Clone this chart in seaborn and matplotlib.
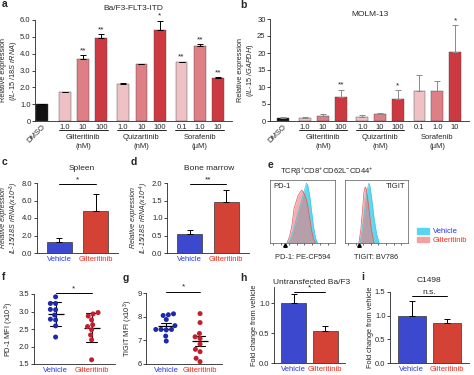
import numpy as np
import pandas as pd
import seaborn as sns
import matplotlib.pyplot as plt
from matplotlib.patches import Patch

sns.set_style("ticks")
plt.rcParams['font.family'] = ['Liberation Sans', 'DejaVu Sans']
plt.rcParams['mathtext.fontset'] = 'custom'
plt.rcParams['mathtext.rm'] = 'Liberation Sans'
plt.rcParams['mathtext.it'] = 'Liberation Sans:italic'
plt.rcParams['font.size'] = 5.5
plt.rcParams['axes.linewidth'] = 0.6
plt.rcParams['xtick.major.width'] = 0.6
plt.rcParams['ytick.major.width'] = 0.6
plt.rcParams['xtick.major.size'] = 2
plt.rcParams['ytick.major.size'] = 2
plt.rcParams['xtick.labelsize'] = 5.5
plt.rcParams['ytick.labelsize'] = 5.5
plt.rcParams['axes.labelsize'] = 5.3

# ---- data ----
# a / b : IL-15 expression in cell lines
ab_pos = [0, 1.25, 2.25, 3.25, 4.45, 5.45, 6.45, 7.65, 8.65, 9.65]
ab_ticklabels = ["DMSO", "1.0", "10", "100", "1.0", "10", "100", "0.1", "1.0", "10"]
ab_shade = ["dmso", "light", "mid", "dark", "light", "mid", "dark", "light", "mid", "dark"]
ab_groups = ["Gilteritinib\n(nM)", "Quizartinib\n(nM)", "Sorafenib\n(\u03bcM)"]
a_mean = [1.0, 1.7, 3.7, 4.95, 2.2, 3.38, 5.4, 3.48, 4.45, 2.55]
a_err = [0.03, 0.04, 0.2, 0.2, 0.08, 0.03, 0.55, 0.04, 0.12, 0.04]
a_stars = ["", "", "**", "**", "", "", "*", "**", "**", "**"]
b_mean = [1.0, 0.8, 1.6, 7.2, 1.3, 2.2, 6.6, 8.7, 8.7, 20.3]
b_err = [0.15, 0.35, 0.55, 2.0, 0.6, 0.3, 2.4, 4.7, 3.1, 7.8]
b_stars = ["", "", "", "**", "", "", "*", "", "", "*"]

# c / d / h / i : vehicle vs gilteritinib
groups = ["Vehicle", "Gilteritinib"]
c_mean, c_err = [1.3, 4.75], [0.4, 2.0]
d_mean, d_err = [0.53, 1.45], [0.12, 0.35]
h_mean, h_err = [1.0, 0.53], [0.16, 0.09]
i_mean, i_err = [1.0, 0.85], [0.3, 0.09]

# e : histograms (x in % of axis, height in % of max)
pd1_veh_x = [28, 33, 38, 43, 48, 52, 56, 58, 61, 64, 67, 70, 73]
pd1_veh_y = [0, 10, 28, 48, 65, 80, 95, 92, 75, 50, 25, 8, 0]
pd1_gil_x = [26, 30, 34, 37, 40, 43, 46, 49, 52, 55, 58, 61, 64, 67, 70]
pd1_gil_y = [0, 10, 30, 55, 65, 75, 80, 84, 80, 72, 60, 40, 20, 6, 0]
tig_veh_x = [24, 28, 31, 34, 36, 38, 40, 43, 46, 50, 54]
tig_veh_y = [0, 25, 50, 75, 88, 95, 88, 65, 40, 15, 0]
tig_gil_x = [22, 25, 28, 30, 32, 34, 36, 39, 42, 46]
tig_gil_y = [0, 20, 55, 80, 89, 85, 70, 45, 20, 0]

# f / g : MFI per mouse
f_veh = [3.42, 3.23, 3.23, 3.06, 3.05, 2.9, 2.78, 2.76, 2.59, 2.27]
f_gil = [2.97, 2.93, 2.87, 2.76, 2.62, 2.57, 2.48, 2.33, 2.19, 1.62]
g_veh = [8.08, 8.05, 8.12, 7.88, 7.62, 7.46, 7.44, 7.46, 7.46, 7.18, 6.97]
g_gil = [8.13, 7.75, 7.29, 7.15, 7.08, 6.84, 6.62, 6.52, 6.24, 6.1]

shade_colors = {"dmso": "#111111", "light": "#f6b9bd", "mid": "#ee6e77", "dark": "#e6202a"}
BLUE, RED = "#2434e6", "#ee2a1b"
DOT_BLUE, DOT_RED = "#1c2aa8", "#c0202e"

W, H = 474, 375
fig = plt.figure(figsize=(W / 100, H / 100), dpi=100)


def add_ax(x0, y0, x1, y1):
    return fig.add_axes([x0 / W, 1 - y1 / H, (x1 - x0) / W, (y1 - y0) / H])


def ftext(x, y, s, **kw):
    fig.text(x / W, 1 - y / H, s, **kw)


def sig(ax, x0, x1, y, s, dy):
    ax.plot([x0, x1], [y, y], color="black", lw=0.7, clip_on=False)
    ax.text((x0 + x1) / 2, y + dy, s, ha="center", va="bottom", fontsize=6)


def style(ax):
    sns.despine(ax=ax)
    ax.tick_params(axis="x", length=0, pad=2)
    ax.tick_params(axis="y", pad=1.2)


# ---- a & b ----
for key, box, mean, err, stars, ylim, yticks, ylabs, ylab, ecol, ttl, tpos, lined in [
    ("a", (35, 20, 232, 121), a_mean, a_err, a_stars, 6, np.arange(0, 7),
     ["0"] + ["%.1f" % v for v in range(1, 7)],
     "Relative expression\n" + r"($\mathit{IL}$-$\mathit{15}$ /$\mathit{18S\ rRNA}$)",
     "black", "Ba/F3-FLT3-ITD", (133, 8), [True, True, True]),
    ("b", (270, 19, 469, 121), b_mean, b_err, b_stars, 30, np.arange(0, 31, 5),
     [str(v) for v in range(0, 31, 5)],
     "Relative expression\n" + r"($\mathit{IL}$-$\mathit{15}$ /$\mathit{GAPDH}$)",
     "#8a8a8a", "MOLM-13", (370, 14), [True, True, False]),
]:
    ax = add_ax(*box)
    sns.barplot(x=ab_pos, y=mean, hue=ab_shade, palette=shade_colors, native_scale=True,
                width=0.65, legend=False, edgecolor="#444444", linewidth=0.3, ax=ax)
    ax.errorbar(ab_pos, mean, yerr=[np.zeros(len(err)), err], fmt="none", ecolor=ecol,
                elinewidth=0.7, capsize=2, capthick=0.7)
    for p, m, e, s in zip(ab_pos, mean, err, stars):
        if s:
            ax.text(p, m + e + ylim * 0.01, s, ha="center", va="bottom", fontsize=6)
    ax.set_ylim(0, ylim)
    ax.set_yticks(yticks, ylabs)
    ax.set_xlim(-0.39 if key == "a" else -0.72, 10.42 if key == "a" else 10.43)
    ax.set_xticks(ab_pos, ab_ticklabels)
    t0 = ax.get_xticklabels()[0]
    t0.set_rotation(45)
    t0.set_ha("right")
    t0.set_rotation_mode("anchor")
    ax.set_ylabel(ylab, labelpad=1, linespacing=1.15)
    style(ax)
    tr = ax.get_xaxis_transform()
    hpx = box[3] - box[1]
    for gi, g in enumerate(ab_groups):
        lo, hi = ab_pos[1 + 3 * gi], ab_pos[3 + 3 * gi]
        if lined[gi]:
            ax.plot([lo - 0.35, hi + 0.35], [-9 / hpx] * 2, color="black", lw=0.6,
                    transform=tr, clip_on=False)
        ax.text((lo + hi) / 2, -13 / hpx, g, ha="center", va="top", transform=tr,
                linespacing=1.4)
    ftext(*tpos, ttl, ha="center", va="center", fontsize=6)

# ---- c, d, h, i ----
for box, mean, err, ylim, yticks, fmt, ylab, ttl, tpos, sigs, italic in [
    ((37, 183, 118, 253), c_mean, c_err, 8, [0, 2, 4, 6, 8], "%.1f",
     "Relative expression\nIL-15/18S rRNA(x10$^{-3}$)", "Spleen", (82, 169), (7.9, "*"), True),
    ((167, 183, 249, 253), d_mean, d_err, 2, [0, 0.5, 1, 1.5, 2], "%.1f",
     "Relative expression\nIL-15/18S rRNA(x10$^{-4}$)", "Bone marrow", (209, 169), (1.97, "**"), True),
    ((274, 287, 345, 363), h_mean, h_err, 1.27, [0, 0.5, 1.0], "%.1f",
     "Fold change from vehicle", "Untransfected Ba/F3", (312, 282), (1.18, "*"), False),
    ((390, 292, 469, 363), i_mean, i_err, 1.5, [0, 0.5, 1.0, 1.5], "%.1f",
     "Fold change from vehicle", "C1498", (429, 280), (1.41, "n.s."), False),
]:
    ax = add_ax(*box)
    w = 0.67 if italic else 0.8
    sns.barplot(x=groups, y=mean, hue=groups, palette=[BLUE, RED], width=w, legend=False,
                edgecolor="#333333", linewidth=0.5, ax=ax)
    ax.errorbar([0, 1], mean, yerr=[[0, 0], err], fmt="none", ecolor="black",
                elinewidth=0.7, capsize=2.5, capthick=0.7)
    ax.set_ylim(0, ylim)
    ax.set_yticks(yticks, [fmt % v for v in yticks])
    ax.set_xlim(-0.62, 1.62)
    ax.set_xlabel("")
    ax.set_ylabel(ylab, fontstyle="italic" if italic else "normal", labelpad=1,
                  linespacing=1.05, fontsize=5.0 if italic else 5.3)
    style(ax)
    for t, c in zip(ax.get_xticklabels(), [BLUE, RED]):
        t.set_color(c)
    sig(ax, 0, 1, sigs[0], sigs[1], ylim * 0.01)
    ftext(*tpos, ttl, ha="center", va="center", fontsize=6)

# ---- e : histograms ----
for box, vx, vy, gx, gy, name, nx, nha, xlab in [
    ((270, 180, 335, 243), pd1_veh_x, pd1_veh_y, pd1_gil_x, pd1_gil_y, "PD-1", 0.05, "left",
     "PD-1: PE-CF594"),
    ((345, 180, 408, 243), tig_veh_x, tig_veh_y, tig_gil_x, tig_gil_y, "TIGIT", 0.95, "right",
     "TIGIT: BV786"),
]:
    ax = add_ax(*box)
    ax.fill_between(vx, vy, color="#58d6f0", alpha=0.95, lw=0)
    ax.plot(vx, vy, color="#3fc8e6", lw=0.5)
    ax.fill_between(gx, gy, color="#ef7a7a", alpha=0.6, lw=0)
    ax.plot(gx, gy, color="#d85c5c", lw=0.5)
    ax.set_xlim(0, 100)
    ax.set_ylim(0, 100)
    ax.set_xticks(np.arange(5, 100, 12), [""] * len(np.arange(5, 100, 12)))
    ax.set_yticks([])
    ax.tick_params(axis="x", length=1.5, width=0.5)
    ax.plot([23], [-3], marker="^", color="black", ms=2.5, clip_on=False)
    for sp in ax.spines.values():
        sp.set_linewidth(0.5)
        sp.set_color("#555555")
    ax.text(nx, 0.95, name, transform=ax.transAxes, ha=nha, va="top", fontsize=5.5)
    ax.set_xlabel(xlab, labelpad=3)

ftext(327, 172, "TCR\u03b2$^{+}$CD8$^{+}$CD62L$^{-}$CD44$^{+}$", ha="center", va="center",
      fontsize=5.5)
leg = fig.legend(handles=[Patch(color="#58d6f0"), Patch(color="#f3a0a0")],
                 labels=["Vehicle", "Gilteritinib"], loc="center left",
                 bbox_to_anchor=(410 / W, 1 - 236 / H), frameon=False, fontsize=5.5,
                 handlelength=1.6, handleheight=0.8, handletextpad=0.5, labelspacing=0.15)
for t, c in zip(leg.get_texts(), [BLUE, RED]):
    t.set_color(c)

# ---- f & g : dot plots ----
for box, veh, gil, ylim, yticks, fmt, ylab, err, sy, sdy in [
    ((34, 294, 115, 364), f_veh, f_gil, (1.5, 3.5), [1.5, 2.0, 2.5, 3.0, 3.5], "%.1f",
     "PD-1 MFI (x10$^3$)", "sd", 3.53, 0.03),
    ((146, 293, 222, 364), g_veh, g_gil, (6, 9), [6, 7, 8, 9], "%d",
     "TIGIT MFI (x10$^3$)", "se", 9.05, 0.05),
]:
    ax = add_ax(*box)
    df = pd.DataFrame({"group": ["Vehicle"] * len(veh) + ["Gilteritinib"] * len(gil),
                       "mfi": veh + gil})
    sns.swarmplot(data=df, x="group", y="mfi", hue="group", palette=[DOT_BLUE, DOT_RED],
                  size=3.6, legend=False, ax=ax)
    sns.pointplot(data=df, x="group", y="mfi", errorbar=err, color="black", markers="_",
                  markersize=11, markeredgewidth=0.9, linestyle="none", capsize=0.3,
                  err_kws={"linewidth": 0.8}, ax=ax)
    ax.set_ylim(*ylim)
    ax.set_yticks(yticks, [fmt % v for v in yticks])
    ax.set_xlim(-0.6, 1.65)
    ax.set_xlabel("")
    ax.set_ylabel(ylab, labelpad=2)
    style(ax)
    for t, c in zip(ax.get_xticklabels(), [BLUE, RED]):
        t.set_color(c)
    sig(ax, 0, 1, sy, "*", sdy)

# ---- panel letters ----
for s, x, y in [("a", 2, 4), ("b", 240, 5), ("c", 2, 162), ("d", 131, 162), ("e", 268, 165),
                ("f", 2, 277), ("g", 123, 278), ("h", 240, 278), ("i", 361, 277)]:
    ftext(x, y, s, fontsize=7.5, fontweight="bold", ha="left", va="center")

fig.savefig("out.png", dpi=100)
